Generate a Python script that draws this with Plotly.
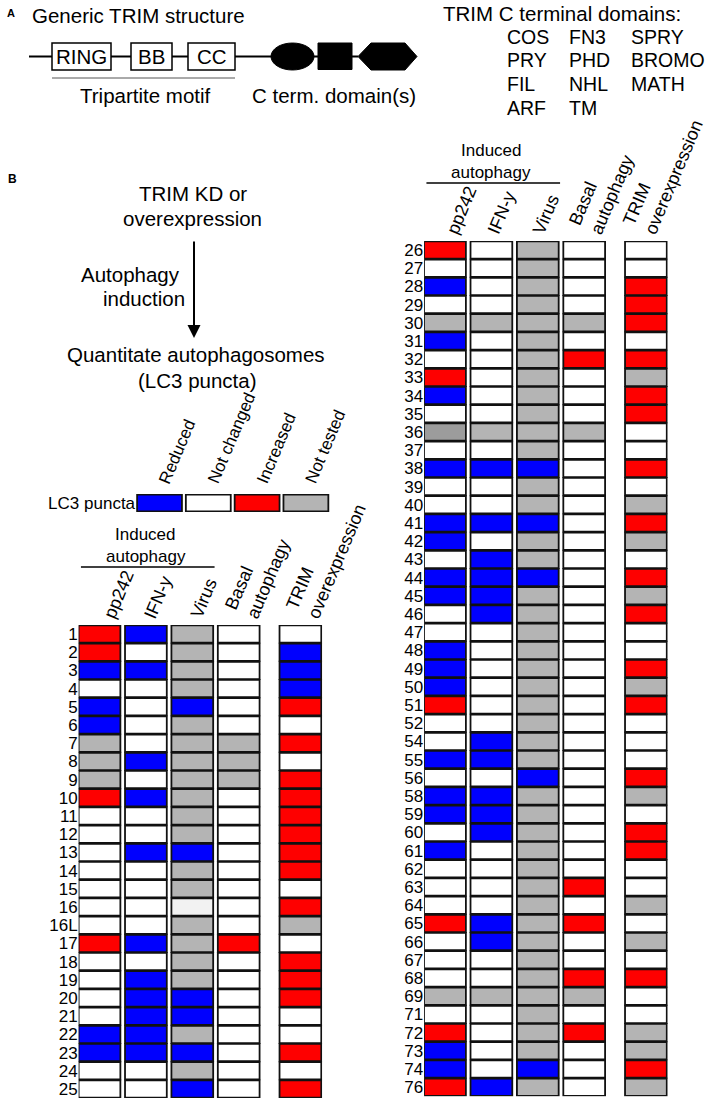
import plotly.graph_objects as go

W, H = 708, 1104
FONT = "Liberation Sans, Arial, Helvetica, sans-serif"

# ---------------- data ----------------
conditions = ["pp242", "IFN-y", "Virus", "Basal<br>autophagy", "TRIM<br>overexpression"]

# codes: R = reduced, N = not changed, I = increased, T = not tested
# (Td / Tl: not-tested cells that are printed darker / lighter in the source image)
legend_codes = ["R", "N", "I", "T"]
legend_labels = ["Reduced", "Not changed", "Increased", "Not tested"]

left_trims = ["1", "2", "3", "4", "5", "6", "7", "8", "9", "10", "11", "12", "13",
              "14", "15", "16", "16L", "17", "18", "19", "20", "21", "22", "23", "24", "25"]
left_pp242 = ["I", "I", "R", "N", "R", "R", "T", "T", "T", "I", "N", "N", "N",
              "N", "N", "N", "N", "I", "N", "N", "N", "N", "R", "R", "N", "N"]
left_ifn = ["R", "N", "R", "N", "N", "N", "N", "R", "N", "R", "N", "N", "R",
            "N", "N", "N", "N", "R", "N", "R", "R", "R", "R", "R", "N", "N"]
left_virus = ["T", "T", "T", "T", "R", "T", "T", "T", "T", "T", "T", "T", "R",
              "T", "T", "Tl", "T", "T", "T", "T", "R", "R", "T", "R", "T", "R"]
left_basal = ["N", "N", "N", "N", "N", "N", "T", "T", "T", "N", "N", "N", "N",
              "N", "N", "N", "N", "I", "N", "N", "N", "N", "N", "N", "N", "N"]
left_trim_oe = ["N", "R", "R", "R", "I", "N", "I", "N", "I", "I", "I", "I", "I",
                "I", "N", "I", "T", "N", "I", "I", "I", "N", "N", "I", "N", "I"]

right_trims = ["26", "27", "28", "29", "30", "31", "32", "33", "34", "35", "36", "37",
               "38", "39", "40", "41", "42", "43", "44", "45", "46", "47", "48", "49",
               "50", "51", "52", "54", "55", "56", "58", "59", "60", "61", "62", "63",
               "64", "65", "66", "67", "68", "69", "71", "72", "73", "74", "76"]
right_pp242 = ["I", "N", "R", "N", "T", "R", "N", "I", "R", "N", "Td", "N",
               "R", "N", "N", "R", "R", "N", "R", "R", "N", "N", "R", "R",
               "R", "I", "N", "N", "R", "N", "R", "R", "N", "R", "N", "N",
               "N", "I", "N", "N", "N", "T", "N", "I", "R", "R", "I"]
right_ifn = ["N", "N", "N", "N", "T", "N", "N", "N", "N", "N", "T", "N",
             "R", "N", "N", "R", "N", "R", "R", "R", "R", "N", "N", "N",
             "N", "N", "N", "R", "R", "N", "R", "R", "R", "N", "N", "N",
             "N", "R", "R", "N", "N", "T", "N", "N", "N", "N", "R"]
right_virus = ["T", "T", "T", "T", "T", "T", "T", "T", "T", "T", "T", "T",
               "R", "T", "T", "R", "T", "T", "R", "T", "T", "T", "T", "T",
               "T", "T", "T", "T", "T", "R", "T", "T", "T", "T", "T", "T",
               "T", "T", "T", "T", "T", "T", "T", "T", "T", "R", "T"]
right_basal = ["N", "N", "N", "N", "T", "N", "I", "N", "N", "N", "T", "N",
               "N", "N", "N", "N", "N", "N", "N", "N", "N", "N", "N", "N",
               "N", "N", "N", "N", "N", "N", "N", "N", "N", "N", "N", "I",
               "N", "I", "N", "N", "I", "T", "N", "I", "N", "N", "N"]
right_trim_oe = ["N", "N", "I", "I", "I", "N", "I", "T", "I", "I", "N", "N",
                 "I", "N", "T", "I", "T", "N", "I", "T", "I", "N", "N", "I",
                 "T", "I", "N", "N", "N", "I", "T", "N", "I", "I", "N", "N",
                 "T", "N", "T", "N", "I", "N", "N", "T", "T", "I", "T"]

domain_grid = [["COS", "FN3", "SPRY"],
               ["PRY", "PHD", "BROMO"],
               ["FIL", "NHL", "MATH"],
               ["ARF", "TM", ""]]

# ---------------- styling ----------------
COLORS = {"R": "#0000FE", "N": "#FFFFFF", "I": "#FE0000", "T": "#B4B4B4",
          "Td": "#9C9C9C", "Tl": "#F2F2F2"}
COL_POS = [0, 1, 2, 3, 4.33]
XUNIT, YUNIT = 46.4, 18.2
CELL_W, CELL_H = 0.9, 0.95
BORDER = "#111111"
BIG = 20.5
MID = 17
HDR = 18


def px(x):
    return x / W


def py(y):
    return 1 - y / H


fig = go.Figure()
annotations = []
shapes = []


def txt(text, x, y, size=BIG, xanchor="center", yanchor="middle", **kw):
    annotations.append(dict(text=text, x=px(x), y=py(y), xref="paper", yref="paper",
                            showarrow=False, xanchor=xanchor, yanchor=yanchor,
                            font=dict(family=FONT, size=size, color="black"), **kw))


def line(x0, y0, x1, y1, width=2, color="black"):
    shapes.append(dict(type="line", xref="paper", yref="paper", x0=px(x0), y0=py(y0),
                       x1=px(x1), y1=py(y1), line=dict(color=color, width=width)))


def add_panel(sfx, trims, cols, cx, cy, offs):
    n = len(trims)
    xs, bases, hs, colors = [], [], [], []
    for j, col in enumerate(cols):
        for i, code in enumerate(col):
            xs.append(COL_POS[j])
            bases.append(i - CELL_H / 2)
            hs.append(CELL_H)
            colors.append(COLORS[code])
    fig.add_trace(go.Bar(x=xs, y=hs, base=bases, width=CELL_W,
                         marker=dict(color=colors, line=dict(color=BORDER, width=1.8)),
                         xaxis="x" + sfx, yaxis="y" + sfx, showlegend=False,
                         hoverinfo="skip", cliponaxis=False))
    xr = [-0.45, 4.8]
    fig.layout["xaxis" + sfx] = dict(range=xr, domain=[px(cx + xr[0] * XUNIT), px(cx + xr[1] * XUNIT)],
                                     visible=False, anchor="y" + sfx, fixedrange=True)
    fig.layout["yaxis" + sfx] = dict(range=[n - 0.5, -0.5],
                                     domain=[py(cy + (n - 0.5) * YUNIT), py(cy - 0.5 * YUNIT)],
                                     tickvals=list(range(n)), ticktext=trims, ticks="",
                                     showgrid=False, zeroline=False, showline=False,
                                     tickfont=dict(family=FONT, size=MID, color="black"),
                                     anchor="x" + sfx, fixedrange=True, ticklabelstandoff=0)
    # column headers (rotated)
    for j, name in enumerate(conditions):
        annotations.append(dict(text=name, x=COL_POS[j] + offs[j], y=-0.5,
                                xref="x" + sfx, yref="y" + sfx, showarrow=False,
                                xanchor="left", yanchor="bottom", align="left",
                                textangle=-67, yshift=1,
                                font=dict(family=FONT, size=HDR, color="black")))
    # induced autophagy group label
    ty = cy - 0.5 * YUNIT
    txt("Induced", cx + XUNIT, ty - 90, size=MID)
    txt("autophagy", cx + XUNIT, ty - 68, size=MID)
    line(cx - 0.4 * XUNIT, ty - 58, cx + 2.48 * XUNIT, ty - 58, width=1.5)


add_panel("", left_trims, [left_pp242, left_ifn, left_virus, left_basal, left_trim_oe],
          99.5, 634, [-0.04, -0.17, -0.17, -0.44, -0.44])
add_panel("2", right_trims, [right_pp242, right_ifn, right_virus, right_basal, right_trim_oe],
          445, 250, [-0.1, -0.22, -0.24, -0.48, -0.63])

# ---------------- legend ----------------
fig.add_trace(go.Bar(x=list(range(len(legend_codes))), y=[0.94] * len(legend_codes),
                     base=[-0.47] * len(legend_codes), width=0.92,
                     marker=dict(color=[COLORS[c] for c in legend_codes],
                                 line=dict(color=BORDER, width=1.8)),
                     xaxis="x3", yaxis="y3", showlegend=False, hoverinfo="skip",
                     cliponaxis=False))
LX0, LUNIT = 159.5, 48.8
fig.layout["xaxis3"] = dict(range=[-0.48, 3.5], domain=[px(LX0 - 0.48 * LUNIT), px(LX0 + 3.5 * LUNIT)],
                            visible=False, anchor="y3", fixedrange=True)
fig.layout["yaxis3"] = dict(range=[-0.5, 0.5], domain=[py(512), py(494)], tickvals=[0],
                            ticktext=["LC3 puncta"], ticks="", showgrid=False, zeroline=False,
                            showline=False, tickfont=dict(family=FONT, size=MID, color="black"),
                            anchor="x3", fixedrange=True, ticklabelstandoff=0)
for i, lab in enumerate(legend_labels):
    annotations.append(dict(text=lab, x=i - 0.14, y=0.5, xref="x3", yref="y3", showarrow=False,
                            xanchor="left", yanchor="bottom", textangle=-67, yshift=5,
                            font=dict(family=FONT, size=MID, color="black")))

# ---------------- panel A ----------------
txt("<b>A</b>", 11, 13, size=11)
txt("Generic TRIM structure", 30, 16, xanchor="left")
line(29, 56.5, 358, 56.5, width=2)
for (x0, x1, lab) in [(52, 111, "RING"), (131, 172, "BB"), (188, 235, "CC")]:
    shapes.append(dict(type="rect", xref="paper", yref="paper", x0=px(x0), x1=px(x1),
                       y0=py(43), y1=py(70), fillcolor="white", line=dict(color="black", width=1.5)))
    txt(lab, (x0 + x1) / 2, 57)
shapes.append(dict(type="circle", xref="paper", yref="paper", x0=px(271), x1=px(314),
                   y0=py(43), y1=py(70), fillcolor="black", line=dict(color="black", width=1)))
shapes.append(dict(type="rect", xref="paper", yref="paper", x0=px(318), x1=px(352),
                   y0=py(43), y1=py(69.5), fillcolor="black", line=dict(color="black", width=1)))
hexpts = [(358, 56.5), (371, 43), (405, 43), (417, 56.5), (405, 70), (371, 70)]
path = "M " + " L ".join(f"{px(a):.5f},{py(b):.5f}" for a, b in hexpts) + " Z"
shapes.append(dict(type="path", xref="paper", yref="paper", path=path, fillcolor="black",
                   line=dict(color="black", width=1)))
line(52, 78, 235, 78, width=1, color="#555555")
txt("Tripartite motif", 145, 95)
txt("C term. domain(s)", 334, 95)
txt("TRIM C terminal domains:", 441, 14, xanchor="left")
grid_x = [505, 567, 629]
grid_y = [37, 60.5, 84, 108]
for r, row in enumerate(domain_grid):
    for c, name in enumerate(row):
        if name:
            txt(name, grid_x[c], grid_y[r], size=19.5, xanchor="left")

# ---------------- panel B ----------------
txt("<b>B</b>", 12, 179, size=12)
txt("TRIM KD or", 193, 193)
txt("overexpression", 192.5, 218)
annotations.append(dict(x=px(194), y=py(338), xref="paper", yref="paper", text="",
                        showarrow=True, ax=0, ay=-(338 - 240), arrowhead=2, arrowsize=1.3,
                        arrowwidth=2, arrowcolor="black"))
txt("Autophagy", 182, 274, xanchor="right")
txt("induction", 187, 299, xanchor="right")
txt("Quantitate autophagosomes", 196, 355)
txt("(LC3 puncta)", 197, 381)

fig.update_layout(width=W, height=H, autosize=False, margin=dict(l=0, r=0, t=0, b=0),
                  paper_bgcolor="white", plot_bgcolor="white", barmode="overlay",
                  annotations=annotations, shapes=shapes, showlegend=False,
                  font=dict(family=FONT))
fig.write_html("out.html", config={"displayModeBar": False, "staticPlot": True},
               post_script="document.body.style.margin='0';document.body.style.overflow='hidden';")
